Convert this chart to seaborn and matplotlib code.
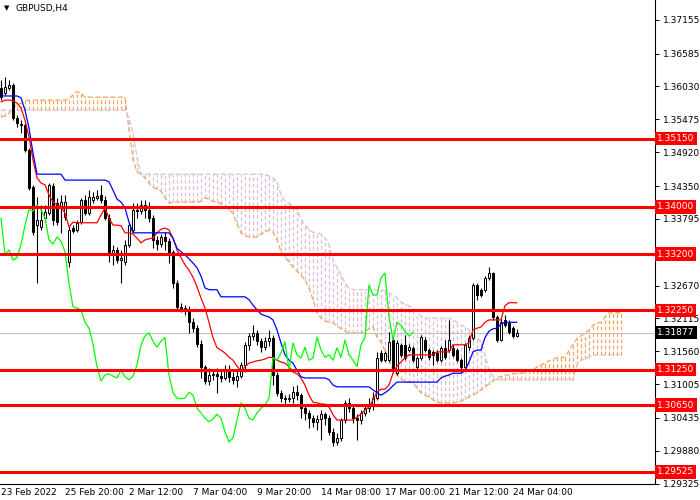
import matplotlib
matplotlib.use("Agg")
import matplotlib.pyplot as plt
import seaborn as sns

# GBPUSD H4, precios
opens = [1.3600, 1.3592, 1.3600, 1.3606, 1.3550, 1.3540, 1.3538, 1.3496, 1.3433, 1.3369,
         1.3366, 1.3381, 1.3389, 1.3435, 1.3406, 1.3400, 1.3383, 1.3307, 1.3364, 1.3361,
         1.3374, 1.3411, 1.3389, 1.3411, 1.3415, 1.3420, 1.3411, 1.3381, 1.3319, 1.3327,
         1.3310, 1.3307, 1.3336, 1.3361, 1.3395, 1.3393, 1.3403, 1.3395, 1.3381, 1.3344,
         1.3337, 1.3349, 1.3342, 1.3324, 1.3271, 1.3231, 1.3229, 1.3226, 1.3205, 1.3195,
         1.3168, 1.3130, 1.3106, 1.3116, 1.3118, 1.3114, 1.3111, 1.3124, 1.3113, 1.3108,
         1.3114, 1.3133, 1.3167, 1.3182, 1.3187, 1.3173, 1.3163, 1.3173, 1.3179, 1.3116,
         1.3086, 1.3077, 1.3076, 1.3077, 1.3087, 1.3082, 1.3060, 1.3052, 1.3043, 1.3037,
         1.3042, 1.3050, 1.3043, 1.3020, 1.3003, 1.3010, 1.3040, 1.3069, 1.3060, 1.3043,
         1.3040, 1.3052, 1.3060, 1.3065, 1.3077, 1.3153, 1.3141, 1.3141, 1.3175, 1.3119,
         1.3167, 1.3167, 1.3158, 1.3162, 1.3130, 1.3145, 1.3175, 1.3158, 1.3155, 1.3153,
         1.3141, 1.3162, 1.3158, 1.3162, 1.3158, 1.3141, 1.3130, 1.3163, 1.3179, 1.3268,
         1.3260, 1.3260, 1.3280, 1.3288, 1.3214, 1.3175, 1.3209, 1.3204, 1.3195, 1.3182]

highs = [1.3614, 1.3619, 1.3614, 1.3609, 1.3555, 1.3546, 1.3541, 1.3499, 1.3437, 1.3417,
         1.3403, 1.3403, 1.3440, 1.3440, 1.3415, 1.3420, 1.3420, 1.3368, 1.3369, 1.3378,
         1.3415, 1.3420, 1.3428, 1.3425, 1.3428, 1.3437, 1.3418, 1.3388, 1.3336, 1.3332,
         1.3327, 1.3344, 1.3374, 1.3406, 1.3406, 1.3411, 1.3411, 1.3408, 1.3386, 1.3351,
         1.3354, 1.3357, 1.3347, 1.3327, 1.3276, 1.3238, 1.3234, 1.3233, 1.3212, 1.3200,
         1.3175, 1.3133, 1.3128, 1.3124, 1.3128, 1.3124, 1.3133, 1.3133, 1.3121, 1.3124,
         1.3138, 1.3172, 1.3187, 1.3200, 1.3192, 1.3179, 1.3180, 1.3192, 1.3184, 1.3121,
         1.3091, 1.3082, 1.3084, 1.3098, 1.3099, 1.3086, 1.3065, 1.3057, 1.3049, 1.3049,
         1.3057, 1.3054, 1.3049, 1.3027, 1.3018, 1.3043, 1.3074, 1.3077, 1.3065, 1.3050,
         1.3057, 1.3065, 1.3077, 1.3087, 1.3155, 1.3158, 1.3157, 1.3189, 1.3179, 1.3175,
         1.3170, 1.3184, 1.3168, 1.3165, 1.3148, 1.3184, 1.3180, 1.3162, 1.3158, 1.3158,
         1.3165, 1.3175, 1.3209, 1.3167, 1.3162, 1.3145, 1.3170, 1.3184, 1.3271, 1.3271,
         1.3263, 1.3283, 1.3298, 1.3290, 1.3217, 1.3212, 1.3217, 1.3209, 1.3199, 1.3194]

lows = [1.3580, 1.3589, 1.3597, 1.3546, 1.3535, 1.3525, 1.3492, 1.3428, 1.3352, 1.3271,
        1.3361, 1.3374, 1.3386, 1.3369, 1.3369, 1.3356, 1.3378, 1.3298, 1.3356, 1.3357,
        1.3371, 1.3386, 1.3386, 1.3406, 1.3411, 1.3406, 1.3378, 1.3307, 1.3302, 1.3305,
        1.3271, 1.3302, 1.3332, 1.3357, 1.3381, 1.3388, 1.3381, 1.3374, 1.3330, 1.3327,
        1.3332, 1.3327, 1.3305, 1.3263, 1.3226, 1.3222, 1.3217, 1.3187, 1.3189, 1.3163,
        1.3111, 1.3101, 1.3099, 1.3108, 1.3086, 1.3104, 1.3108, 1.3104, 1.3101, 1.3096,
        1.3111, 1.3121, 1.3158, 1.3175, 1.3167, 1.3155, 1.3158, 1.3165, 1.3099, 1.3081,
        1.3070, 1.3065, 1.3070, 1.3069, 1.3074, 1.3043, 1.3040, 1.3027, 1.3028, 1.3023,
        1.3006, 1.3032, 1.3015, 1.2996, 1.2998, 1.3005, 1.3035, 1.3054, 1.3035, 1.3006,
        1.3033, 1.3047, 1.3054, 1.3057, 1.3074, 1.3138, 1.3138, 1.3138, 1.3119, 1.3116,
        1.3146, 1.3141, 1.3155, 1.3138, 1.3124, 1.3141, 1.3155, 1.3141, 1.3133, 1.3138,
        1.3138, 1.3143, 1.3155, 1.3146, 1.3138, 1.3121, 1.3124, 1.3158, 1.3175, 1.3243,
        1.3248, 1.3256, 1.3276, 1.3209, 1.3172, 1.3173, 1.3197, 1.3185, 1.3179, 1.3180]

closes = [1.3585, 1.3602, 1.3606, 1.3550, 1.3541, 1.3538, 1.3496, 1.3432, 1.3357, 1.3378,
          1.3378, 1.3391, 1.3437, 1.3378, 1.3374, 1.3408, 1.3408, 1.3361, 1.3359, 1.3373,
          1.3411, 1.3389, 1.3417, 1.3417, 1.3418, 1.3411, 1.3381, 1.3319, 1.3327, 1.3310,
          1.3314, 1.3336, 1.3369, 1.3395, 1.3393, 1.3403, 1.3395, 1.3381, 1.3344, 1.3337,
          1.3349, 1.3342, 1.3324, 1.3271, 1.3231, 1.3229, 1.3226, 1.3205, 1.3195, 1.3168,
          1.3130, 1.3106, 1.3116, 1.3118, 1.3114, 1.3111, 1.3124, 1.3113, 1.3108, 1.3114,
          1.3133, 1.3167, 1.3182, 1.3187, 1.3173, 1.3163, 1.3173, 1.3179, 1.3116, 1.3086,
          1.3077, 1.3076, 1.3077, 1.3087, 1.3082, 1.3060, 1.3052, 1.3043, 1.3037, 1.3042,
          1.3050, 1.3043, 1.3020, 1.3003, 1.3010, 1.3040, 1.3069, 1.3060, 1.3043, 1.3040,
          1.3052, 1.3060, 1.3065, 1.3077, 1.3145, 1.3141, 1.3153, 1.3172, 1.3124, 1.3170,
          1.3150, 1.3145, 1.3163, 1.3141, 1.3145, 1.3180, 1.3158, 1.3146, 1.3150, 1.3141,
          1.3162, 1.3146, 1.3175, 1.3150, 1.3141, 1.3130, 1.3167, 1.3179, 1.3268, 1.3251,
          1.3251, 1.3280, 1.3288, 1.3214, 1.3175, 1.3205, 1.3200, 1.3189, 1.3182, 1.31877]

# Ichimoku
tenkan = [1.3577, 1.3580, 1.3580, 1.3579, 1.3575, 1.3567, 1.3546, 1.3518, 1.3479, 1.3449,
          1.3440, 1.3437, 1.3420, 1.3408, 1.3403, 1.3400, 1.3389, 1.3366, 1.3374, 1.3373,
          1.3373, 1.3373, 1.3373, 1.3373, 1.3373, 1.3386, 1.3398, 1.3381, 1.3369, 1.3369,
          1.3368, 1.3356, 1.3356, 1.3354, 1.3347, 1.3339, 1.3344, 1.3346, 1.3347, 1.3356,
          1.3362, 1.3364, 1.3361, 1.3347, 1.3327, 1.3314, 1.3302, 1.3293, 1.3281, 1.3265,
          1.3246, 1.3229, 1.3205, 1.3179, 1.3162, 1.3158, 1.3153, 1.3146, 1.3141, 1.3131,
          1.3123, 1.3130, 1.3136, 1.3138, 1.3140, 1.3141, 1.3143, 1.3146, 1.3145, 1.3141,
          1.3138, 1.3136, 1.3130, 1.3121, 1.3118, 1.3111, 1.3099, 1.3082, 1.3070, 1.3069,
          1.3067, 1.3067, 1.3062, 1.3049, 1.3040, 1.3040, 1.3040, 1.3040, 1.3040, 1.3045,
          1.3050, 1.3057, 1.3062, 1.3074, 1.3087, 1.3092, 1.3092, 1.3099, 1.3119, 1.3131,
          1.3138, 1.3145, 1.3150, 1.3150, 1.3150, 1.3150, 1.3150, 1.3150, 1.3150, 1.3155,
          1.3155, 1.3155, 1.3155, 1.3167, 1.3167, 1.3167, 1.3167, 1.3170, 1.3192, 1.3195,
          1.3197, 1.3205, 1.3209, 1.3209, 1.3209, 1.3209, 1.3233, 1.3238, 1.3238, 1.3238]

kijun = [1.3587, 1.3587, 1.3587, 1.3587, 1.3587, 1.3584, 1.3563, 1.3533, 1.3491, 1.3455,
         1.3455, 1.3455, 1.3455, 1.3455, 1.3455, 1.3455, 1.3445, 1.3445, 1.3445, 1.3445,
         1.3445, 1.3445, 1.3445, 1.3445, 1.3445, 1.3445, 1.3445, 1.3442, 1.3428, 1.3413,
         1.3408, 1.3398, 1.3374, 1.3356, 1.3356, 1.3356, 1.3356, 1.3356, 1.3356, 1.3356,
         1.3356, 1.3356, 1.3356, 1.3347, 1.3330, 1.3324, 1.3319, 1.3312, 1.3305, 1.3297,
         1.3283, 1.3263, 1.3260, 1.3260, 1.3260, 1.3248, 1.3248, 1.3248, 1.3248, 1.3248,
         1.3248, 1.3248, 1.3243, 1.3234, 1.3226, 1.3219, 1.3216, 1.3214, 1.3209, 1.3192,
         1.3170, 1.3150, 1.3141, 1.3136, 1.3124, 1.3113, 1.3111, 1.3111, 1.3111, 1.3111,
         1.3111, 1.3111, 1.3108, 1.3099, 1.3096, 1.3096, 1.3096, 1.3096, 1.3096, 1.3096,
         1.3096, 1.3096, 1.3096, 1.3091, 1.3086, 1.3082, 1.3086, 1.3091, 1.3098, 1.3104,
         1.3104, 1.3104, 1.3104, 1.3104, 1.3104, 1.3104, 1.3104, 1.3104, 1.3104, 1.3104,
         1.3111, 1.3114, 1.3116, 1.3119, 1.3119, 1.3119, 1.3123, 1.3138, 1.3155, 1.3158,
         1.3158, 1.3179, 1.3190, 1.3194, 1.3195, 1.3202, 1.3205, 1.3205, 1.3205, 1.3205]

span_a = [1.3552, 1.3553, 1.3558, 1.3567, 1.3572, 1.3575, 1.3579, 1.3580, 1.3580, 1.3580,
          1.3580, 1.3580, 1.3580, 1.3580, 1.3580, 1.3580, 1.3580, 1.3582, 1.3589, 1.3594,
          1.3592, 1.3585, 1.3585, 1.3585, 1.3585, 1.3585, 1.3585, 1.3585, 1.3585, 1.3585,
          1.3585, 1.3585, 1.3530, 1.3479, 1.3459, 1.3455, 1.3449, 1.3440, 1.3433, 1.3430,
          1.3426, 1.3415, 1.3406, 1.3408, 1.3408, 1.3408, 1.3408, 1.3408, 1.3408, 1.3408,
          1.3409, 1.3415, 1.3413, 1.3409, 1.3408, 1.3405, 1.3400, 1.3395, 1.3389, 1.3371,
          1.3356, 1.3351, 1.3349, 1.3349, 1.3349, 1.3354, 1.3357, 1.3361, 1.3357, 1.3344,
          1.3324, 1.3315, 1.3307, 1.3298, 1.3291, 1.3285, 1.3276, 1.3263, 1.3243, 1.3221,
          1.3212, 1.3207, 1.3205, 1.3204, 1.3199, 1.3194, 1.3190, 1.3187, 1.3187, 1.3187,
          1.3187, 1.3190, 1.3194, 1.3197, 1.3180, 1.3172, 1.3157, 1.3141, 1.3124, 1.3116,
          1.3109, 1.3106, 1.3104, 1.3103, 1.3094, 1.3086, 1.3082, 1.3079, 1.3074, 1.3070,
          1.3069, 1.3069, 1.3069, 1.3069, 1.3070, 1.3072, 1.3075, 1.3079, 1.3082, 1.3086,
          1.3091, 1.3096, 1.3101, 1.3106, 1.3111, 1.3114, 1.3116, 1.3116, 1.3118, 1.3119,
          1.3119, 1.3121, 1.3123, 1.3124, 1.3130, 1.3133, 1.3136, 1.3140, 1.3143, 1.3145,
          1.3146, 1.3146, 1.3158, 1.3168, 1.3177, 1.3182, 1.3187, 1.3192, 1.3200, 1.3204,
          1.3205, 1.3214, 1.3221, 1.3221, 1.3221, 1.3221]

span_b = [1.3563, 1.3563, 1.3563, 1.3563, 1.3563, 1.3563, 1.3563, 1.3563, 1.3563, 1.3563,
          1.3563, 1.3563, 1.3563, 1.3563, 1.3563, 1.3563, 1.3563, 1.3563, 1.3563, 1.3563,
          1.3563, 1.3563, 1.3563, 1.3563, 1.3563, 1.3563, 1.3563, 1.3563, 1.3563, 1.3563,
          1.3563, 1.3563, 1.3550, 1.3525, 1.3484, 1.3455, 1.3455, 1.3455, 1.3455, 1.3455,
          1.3455, 1.3455, 1.3455, 1.3455, 1.3455, 1.3455, 1.3455, 1.3455, 1.3455, 1.3455,
          1.3455, 1.3455, 1.3455, 1.3455, 1.3455, 1.3455, 1.3455, 1.3455, 1.3455, 1.3455,
          1.3455, 1.3455, 1.3455, 1.3455, 1.3455, 1.3455, 1.3455, 1.3452, 1.3449, 1.3442,
          1.3420, 1.3410, 1.3406, 1.3401, 1.3395, 1.3379, 1.3369, 1.3362, 1.3357, 1.3356,
          1.3354, 1.3347, 1.3336, 1.3310, 1.3298, 1.3285, 1.3271, 1.3263, 1.3260, 1.3260,
          1.3260, 1.3260, 1.3260, 1.3260, 1.3260, 1.3260, 1.3258, 1.3254, 1.3251, 1.3246,
          1.3239, 1.3236, 1.3233, 1.3228, 1.3221, 1.3216, 1.3212, 1.3212, 1.3212, 1.3212,
          1.3212, 1.3212, 1.3212, 1.3209, 1.3205, 1.3200, 1.3197, 1.3192, 1.3185, 1.3179,
          1.3172, 1.3150, 1.3124, 1.3114, 1.3108, 1.3108, 1.3108, 1.3108, 1.3108, 1.3108,
          1.3108, 1.3108, 1.3108, 1.3108, 1.3108, 1.3108, 1.3108, 1.3108, 1.3108, 1.3108,
          1.3108, 1.3108, 1.3108, 1.3108, 1.3133, 1.3141, 1.3143, 1.3146, 1.3150, 1.3150,
          1.3150, 1.3150, 1.3150, 1.3150, 1.3150, 1.3150]

fechas = ["23 Feb 2022", "25 Feb 20:00", "2 Mar 12:00", "7 Mar 04:00", "9 Mar 20:00",
          "14 Mar 08:00", "17 Mar 00:00", "21 Mar 12:00", "24 Mar 04:00"]
barras_fechas = [0, 16, 32, 48, 64, 80, 96, 112, 128]

niveles = [1.35150, 1.34000, 1.33200, 1.32250, 1.31250, 1.30650, 1.29525]
precio_actual = 1.31877
marcas_precio = [1.37155, 1.36585, 1.36030, 1.35475, 1.34920, 1.34350, 1.33795,
                 1.32670, 1.32115, 1.31560, 1.31005, 1.30435, 1.29880, 1.29325]
desplazamiento = 26

sns.set_style("white")
plt.rcParams['font.family'] = ['DejaVu Sans']

fig = plt.figure(figsize=(7, 5), dpi=100)
alto_px = 484
ax = fig.add_axes([0, 16 / 500, 655 / 700, alto_px / 500])

naranja = '#F4A460'
lila = '#D8BFD8'

# nube
nube_x = list(range(len(span_a)))
nube_bajo = [min(a, b) for a, b in zip(span_a, span_b)]
nube_alto = [max(a, b) for a, b in zip(span_a, span_b)]
nube_col = [naranja if a >= b else lila for a, b in zip(span_a, span_b)]
ax.vlines(nube_x, nube_bajo, nube_alto, colors=nube_col, linewidth=0.9,
          linestyles=(0, (3, 2)), zorder=1)
sns.lineplot(x=nube_x, y=span_a, color=naranja, linewidth=0.9, linestyle=(0, (4, 2)),
             estimator=None, sort=False, ax=ax, zorder=1)
sns.lineplot(x=nube_x, y=span_b, color=lila, linewidth=0.9, linestyle=(0, (4, 2)),
             estimator=None, sort=False, ax=ax, zorder=1)

ax.axhline(precio_actual, color='#C0C0C0', linewidth=0.8, zorder=1.5)

# velas
barras = list(range(len(closes)))
cuerpo_bajo = [min(o, c) for o, c in zip(opens, closes)]
cuerpo_alto = [max(abs(c - o), 0.00003) for o, c in zip(opens, closes)]
cuerpo_col = ['white' if c >= o else 'black' for o, c in zip(opens, closes)]
ax.vlines(barras, lows, highs, color='black', linewidth=0.8, zorder=2)
ax.bar(barras, cuerpo_alto, bottom=cuerpo_bajo, width=0.62, color=cuerpo_col,
       edgecolor='black', linewidth=0.7, zorder=2.5)

# lineas del indicador
sns.lineplot(x=barras, y=tenkan, color='red', linewidth=0.9, estimator=None, sort=False, ax=ax, zorder=3)
sns.lineplot(x=barras, y=kijun, color='blue', linewidth=0.9, estimator=None, sort=False, ax=ax, zorder=3)
sns.lineplot(x=barras[:len(closes) - desplazamiento], y=closes[desplazamiento:], color='#00FF00',
             linewidth=0.9, estimator=None, sort=False, ax=ax, zorder=3)

for nivel in niveles:
    ax.axhline(nivel, color='red', linewidth=2.2, zorder=4)

ax.set_xlim(-0.25, -0.25 + 655 / 4)
ax.set_ylim(1.3749 - alto_px * 0.0001688, 1.3749)
ax.set_xlabel("")
ax.set_ylabel("")

for lado in ['top', 'left']:
    ax.spines[lado].set_visible(False)
for lado in ['right', 'bottom']:
    ax.spines[lado].set_color('black')
    ax.spines[lado].set_linewidth(0.8)

ax.yaxis.tick_right()
ax.set_yticks(marcas_precio)
ax.set_yticklabels([f"{v:.5f}" for v in marcas_precio])
ax.tick_params(axis='y', direction='out', length=3, width=0.7, labelsize=6.5, pad=3, colors='black')

ax.set_xticks(barras_fechas)
ax.set_xticklabels(fechas, ha='left')
ax.tick_params(axis='x', direction='out', length=2, width=0.7, labelsize=6.5, pad=1, colors='black')

trans = ax.get_yaxis_transform()
for nivel in niveles:
    ax.text(1.003, nivel, f"{nivel:.5f}", transform=trans, color='white', fontsize=6.5,
            va='center', ha='left', clip_on=False, zorder=6,
            bbox=dict(boxstyle='square,pad=0.25', fc='red', ec='none'))
ax.text(1.003, precio_actual, f"{precio_actual:.5f}", transform=trans, color='white', fontsize=6.5,
        va='center', ha='left', clip_on=False, zorder=6,
        bbox=dict(boxstyle='square,pad=0.25', fc='black', ec='none'))

fig.text(4 / 700, 1 - 8 / 500, "\u25BC", fontsize=5, va='center', ha='left', color='black')
fig.text(15 / 700, 1 - 8 / 500, "GBPUSD,H4", fontsize=6.5, va='center', ha='left', color='black')

fig.savefig("out.png", dpi=100, facecolor='white')
